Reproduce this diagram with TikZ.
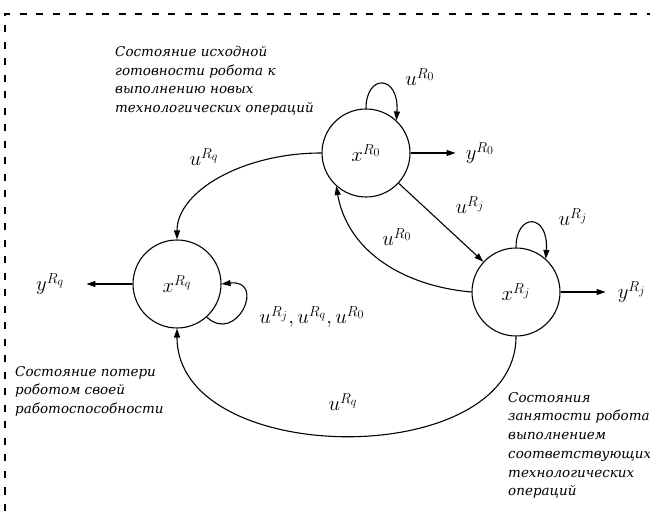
\documentclass[tikz,border=0pt]{standalone}
\usepackage{amsmath}
\usepackage{fontspec}
\setmainfont{DejaVu Serif}
\usetikzlibrary{positioning, arrows.meta}

\tikzset{
state/.style={circle, draw, line width=1.1pt, minimum size=88pt, inner sep=0pt},
lab/.style={font=\huge, inner sep=0pt},
note/.style={align=left, anchor=north west, inner sep=0pt, font=\fontsize{13.5}{18.7}\selectfont\itshape},
conn/.style={line width=1.1pt, -{Triangle[length=9pt,width=6pt]}},
frame/.style={line width=1.5pt, dash pattern=on 7pt off 9.5pt}
}

\begin{document}
\begin{tikzpicture}[x=1pt, y=1pt]
\useasboundingbox (0,0) rectangle (650,511);
\draw[frame] (5,0) -- (5,497) -- (650,497);

\node[state, lab] (x0) at (366,358) {$x^{R_0}$};
\node[state, lab] (xq) at (177,227) {$x^{R_q}$};
\node[state, lab] (xj) at (516,219) {$x^{R_j}$};

\node[lab, right=55pt of x0] (y0) {$y^{R_0}$};
\node[lab, right=57pt of xj] (yj) {$y^{R_j}$};
\node[lab, left=68pt of xq] (yq) {$y^{R_q}$};

\node[lab] (u0a) at (420,434) {$u^{R_0}$};
\node[lab] (uqa) at (204,354) {$u^{R_q}$};
\node[lab] (uja) at (470,306) {$u^{R_j}$};
\node[lab] (u0b) at (397,274) {$u^{R_0}$};
\node[lab] (ujb) at (573,294) {$u^{R_j}$};
\node[lab] (uall) at (312,194) {$u^{R_j},u^{R_q},u^{R_0}$};
\node[lab] (uqb) at (343,109) {$u^{R_q}$};

\node[note] (t0) at (115,465) {Состояние исходной\\готовности робота к\\выполнению новых\\технологических операций};
\node[note] (tq) at (15,145) {Состояние потери\\роботом своей\\работоспособности};
\node[note] (tj) at (508,119) {Состояния\\занятости робота\\выполнением\\соответствующих\\технологических\\операций};

\draw[conn, shorten >=10pt] (x0) -- (y0);
\draw[conn, shorten >=12pt] (xj) -- (yj);
\draw[conn, shorten >=22pt] (xq) -- (yq);

\draw[conn] (x0.90) .. controls +(0,35) and +(3,46) .. (x0.47);
\draw[conn] (xj.90) .. controls +(0,35) and +(3,46) .. (xj.48);
\draw[conn] (xq.-48) .. controls +(30,-28) and +(45,5) .. (xq.east);

\draw[conn] (x0.west) .. controls +(-79,0) and +(0,48) .. (xq.north);
\draw[conn] (x0) -- (xj);
\draw[conn] (xj.west) to[out=175, in=-80] (x0.228);
\draw[conn] (xj.south) .. controls +(0,-135) and +(0,-140) .. (xq.south);
\end{tikzpicture}
\end{document}
